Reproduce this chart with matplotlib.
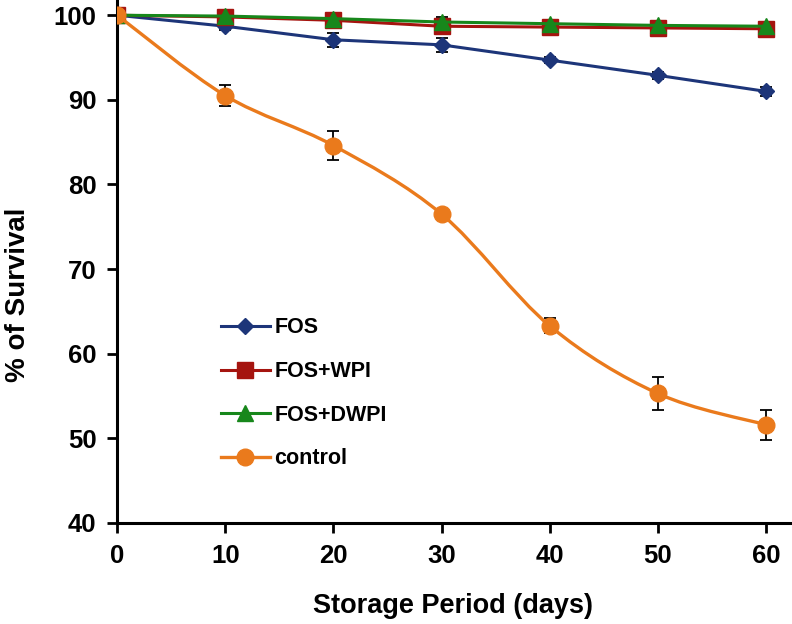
import numpy as np
import matplotlib
matplotlib.use("Agg")
import matplotlib.pyplot as plt
from matplotlib.path import Path
from matplotlib.patches import PathPatch
from matplotlib.lines import Line2D

plt.rcParams['font.family'] = ['Liberation Sans', 'DejaVu Sans']
plt.rcParams['font.weight'] = 'bold'

days = [0, 10, 20, 30, 40, 50, 60]
fos = [100, 98.7, 97.1, 96.5, 94.7, 92.9, 91.0]
fos_err = [0, 0.5, 0.8, 0.8, 0.4, 0.4, 0.5]
fos_wpi = [100, 99.8, 99.4, 98.7, 98.6, 98.5, 98.4]
fos_wpi_err = [0, 0.3, 0.4, 0.3, 0.4, 0.3, 0.3]
fos_dwpi = [100, 99.9, 99.6, 99.2, 99.0, 98.8, 98.7]
fos_dwpi_err = [0, 0.3, 0.3, 0.6, 0.3, 0.3, 0.3]
control = [100, 90.5, 84.6, 76.5, 63.3, 55.3, 51.6]
control_err = [0, 1.2, 1.7, 0.3, 0.9, 1.9, 1.8]

col_fos = '#1d3579'
col_wpi = '#a5140f'
col_dwpi = '#17871b'
col_ctrl = '#ea7a1c'


def smooth_path(x, y):
    # excel-style smoothed line: cubic bezier through every point
    pts = np.column_stack([x, y]).astype(float)
    verts = [pts[0]]
    codes = [Path.MOVETO]
    n = len(pts)
    for i in range(n - 1):
        p0 = pts[i - 1] if i > 0 else pts[i]
        p1 = pts[i]
        p2 = pts[i + 1]
        p3 = pts[i + 2] if i + 2 < n else pts[i + 1]
        c1 = p1 + (p2 - p0) / 6.0
        c2 = p2 - (p3 - p1) / 6.0
        verts += [c1, c2, p2]
        codes += [Path.CURVE4] * 3
    return Path(verts, codes)


fig = plt.figure(figsize=(7.92, 6.24), dpi=100)
ax = fig.add_axes([0.148, 0.162, 0.849, 0.838])

series = [
    (fos, fos_err, col_fos, 'D', 8, 'FOS'),
    (fos_wpi, fos_wpi_err, col_wpi, 's', 11, 'FOS+WPI'),
    (fos_dwpi, fos_dwpi_err, col_dwpi, '^', 11, 'FOS+DWPI'),
]
for vals, err, c, m, ms, lab in series:
    ax.errorbar(days, vals, yerr=err, fmt='none', ecolor='black',
                elinewidth=1.3, capsize=4, capthick=1.3, zorder=2)
    ax.plot(days, vals, color=c, lw=2.2, marker=m, ms=ms, zorder=3)

ax.errorbar(days, control, yerr=control_err, fmt='none', ecolor='black',
            elinewidth=1.3, capsize=4, capthick=1.3, zorder=2)
ax.add_patch(PathPatch(smooth_path(days, control), facecolor='none',
                       edgecolor=col_ctrl, lw=2.4, zorder=3))
ax.plot(days, control, ls='none', color=col_ctrl, marker='o', ms=12, zorder=4)

handles = [
    Line2D([], [], color=col_fos, lw=2.2, marker='D', ms=8),
    Line2D([], [], color=col_wpi, lw=2.2, marker='s', ms=11),
    Line2D([], [], color=col_dwpi, lw=2.2, marker='^', ms=11),
    Line2D([], [], color=col_ctrl, lw=2.4, marker='o', ms=12),
]
ax.legend(handles, ['FOS', 'FOS+WPI', 'FOS+DWPI', 'control'],
          loc='upper left', bbox_to_anchor=(0.125, 0.43), frameon=False,
          prop={'weight': 'bold', 'size': 15.5},
          handlelength=2.3, handletextpad=0.2, labelspacing=1.05)

ax.set_xlim(0, 62.2)
ax.set_ylim(40, 101.8)
ax.set_xticks(days)
ax.set_yticks([40, 50, 60, 70, 80, 90, 100])
ax.spines['top'].set_visible(False)
ax.spines['right'].set_visible(False)
ax.spines['left'].set_linewidth(2.2)
ax.spines['bottom'].set_linewidth(2.2)
ax.tick_params(axis='both', direction='out', length=7, width=2, labelsize=18.5, pad=8)
for t in ax.get_xticklabels() + ax.get_yticklabels():
    t.set_fontweight('bold')

ax.set_xlabel('Storage Period (days)', fontsize=19.5, fontweight='bold', labelpad=18)
ax.set_ylabel('% of Survival', fontsize=20, fontweight='bold')
ax.yaxis.set_label_coords(-0.128, 0.436)

fig.savefig('out.png', dpi=100)
